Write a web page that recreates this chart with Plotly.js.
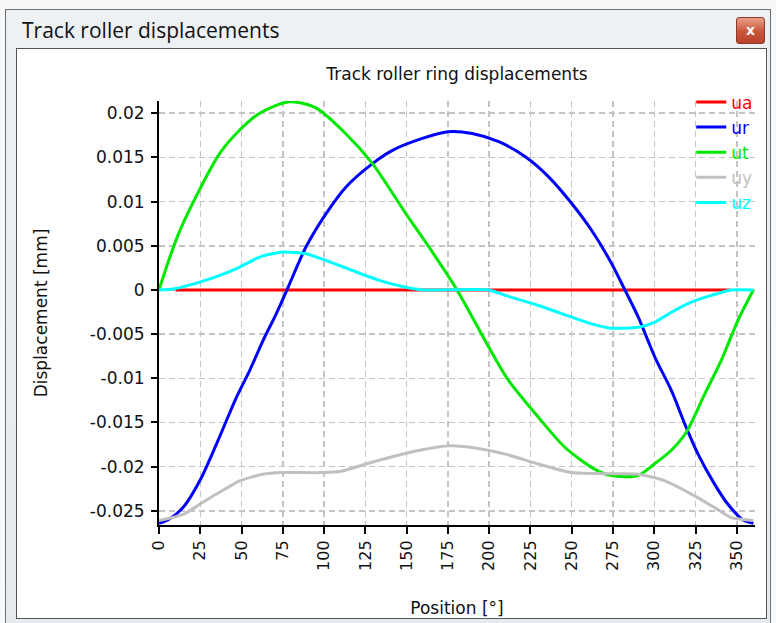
<!DOCTYPE html>
<html>
<head>
<meta charset="utf-8">
<script src="https://cdn.plot.ly/plotly-3.0.1.min.js"></script>
<style>
  html, body { margin:0; padding:0; width:776px; height:623px; overflow:hidden; background:#f7f8f9; }
  #win { position:absolute; left:5px; top:9px; width:766px; height:620px; box-sizing:border-box;
         border:1px solid #6e6e6e; background:linear-gradient(#eef1f4, #e6e9ed); }
  #wtitle { position:absolute; left:22px; top:16px; font-family:"Open Sans", sans-serif; font-size:21px; color:#111; }
  #close { position:absolute; left:736px; top:17px; width:29px; height:27px; box-sizing:border-box;
           border:1px solid #8a3a2a; border-radius:3px; background:linear-gradient(#e9a08a, #c9553b 55%, #b8432c);
           color:#fff; font-family:"DejaVu Sans", sans-serif; font-weight:bold; font-size:14px; text-align:center; line-height:24px; }
  #panel { position:absolute; left:16px; top:48px; width:751px; height:571px; box-sizing:border-box;
           border:1px solid #555; background:#fff; }
  #chart { position:absolute; left:17px; top:49px; width:749px; height:569px; }
</style>
</head>
<body>
<div id="win"></div>
<div id="wtitle">Track roller displacements</div>
<div id="close">x</div>
<div id="panel"></div>
<div id="chart"></div>
<script>
// ---- data ----
const uaX = [10, 346];
const uaY = [0, 0];

const urX = [0, 5.6, 14.7, 24.7, 34.8, 46.9, 54.9, 63, 71, 77.5, 89, 101.2, 113.3, 129.3, 141.4, 159.5, 175, 189.7, 205.8, 221.9, 236, 250, 262, 274.2, 282.2, 290.3, 300.4, 310.4, 318.5, 326.5, 336.6, 344.6, 353.6, 360];
const urY = [-0.0264, -0.0260, -0.0246, -0.0216, -0.01745, -0.01216, -0.00913, -0.00573, -0.0027, 0, 0.00486, 0.00864, 0.01166, 0.0143, 0.0158, 0.01715, 0.0179, 0.0177, 0.01677, 0.01507, 0.0128, 0.00978, 0.00675, 0.00297, 0, -0.00308, -0.00762, -0.0114, -0.01518, -0.01858, -0.0220, -0.02425, -0.0260, -0.0264];

const utX = [0, 12.7, 36.8, 48.9, 61, 79, 95, 113, 129.3, 149.5, 163.5, 180.5, 199.8, 211.8, 229.9, 246, 264, 274, 290, 300, 310, 319.4, 330.5, 340.5, 350.6, 360];
const utY = [0, 0.00675, 0.01545, 0.0181, 0.0200, 0.0213, 0.0206, 0.0177, 0.0143, 0.00864, 0.00486, 0, -0.00649, -0.01027, -0.01443, -0.01783, -0.0203, -0.0210, -0.0210, -0.0197, -0.0182, -0.0161, -0.0118, -0.0080, -0.00346, 0];

const uyX = [0, 14.7, 24.7, 34.8, 48.9, 63, 75, 99.2, 111.2, 125.3, 151.5, 175.6, 189.7, 209.8, 229.9, 250, 274.2, 290.3, 306.4, 322.5, 336.6, 346.6, 360];
const uyY = [-0.0261, -0.0254, -0.02425, -0.0231, -0.0216, -0.02085, -0.02067, -0.02067, -0.02048, -0.0197, -0.0184, -0.01764, -0.01783, -0.01858, -0.0197, -0.02067, -0.0208, -0.02085, -0.0216, -0.0231, -0.02464, -0.02577, -0.0261];

const uzX = [0, 8.6, 24.7, 36.8, 48.9, 61, 75, 89, 101, 117, 133.4, 149.5, 159.5, 200, 209.8, 229.9, 250, 262, 274.2, 290.3, 300.4, 310.4, 322.5, 334.5, 346.6, 360];
const uzY = [0, 0.0001, 0.00088, 0.00164, 0.00259, 0.00372, 0.00429, 0.0041, 0.00335, 0.00221, 0.00108, 0.0003, 0, 0, -0.00062, -0.00176, -0.00308, -0.00384, -0.00433, -0.00422, -0.00365, -0.00252, -0.00138, -0.00062, 0, 0];

const seriesNames = ["ua", "ur", "ut", "uy", "uz"];
const seriesColors = ["#ff0000", "#0000ff", "#00e800", "#c0c0c0", "#00ffff"];
const seriesSmoothing = [0, 0.8, 0.8, 0.6, 0.6];

const xTickVals = [0, 25, 50, 75, 100, 125, 150, 175, 200, 225, 250, 275, 300, 325, 350];
const xTickText = ["0", "25", "50", "75", "100", "125", "150", "175", "200", "225", "250", "275", "300", "325", "350"];
const yTickVals = [0.02, 0.015, 0.01, 0.005, 0, -0.005, -0.01, -0.015, -0.02, -0.025];
const yTickText = ["0.02", "0.015", "0.01", "0.005", "0", "-0.005", "-0.01", "-0.015", "-0.02", "-0.025"];

const xs = [uaX, urX, utX, uyX, uzX];
const ys = [uaY, urY, utY, uyY, uzY];

const FONT = "DejaVu Sans, Verdana, sans-serif";

const traces = seriesNames.map((n, i) => ({
  type: "scatter",
  mode: "lines",
  x: xs[i],
  y: ys[i],
  name: '<span style="color:' + seriesColors[i] + '">' + n + '</span>',
  line: seriesSmoothing[i] > 0
    ? { color: seriesColors[i], width: 3, shape: "spline", smoothing: seriesSmoothing[i] }
    : { color: seriesColors[i], width: 3 },
  hoverinfo: "skip"
}));

const layout = {
  width: 749,
  height: 569,
  margin: { l: 142, r: 8, t: 52, b: 93, pad: 0 },
  paper_bgcolor: "rgba(0,0,0,0)",
  plot_bgcolor: "rgba(0,0,0,0)",
  font: { family: FONT, size: 17, color: "#111" },
  title: { text: "Track roller ring displacements", x: 0.5, xref: "paper", xanchor: "center",
           y: 0.956, yref: "container", yanchor: "middle", font: { family: FONT, size: 17, color: "#111" } },
  showlegend: true,
  legend: { x: 0.893, xanchor: "left", y: 1.039, yanchor: "top", bgcolor: "rgba(0,0,0,0)",
            font: { family: FONT, size: 17 }, itemwidth: 30, borderwidth: 0 },
  xaxis: {
    range: [0, 361], tickmode: "array", tickvals: xTickVals, ticktext: xTickText, tickangle: -90,
    showline: true, linecolor: "#000", linewidth: 2, ticks: "outside", ticklen: 7, tickwidth: 2, tickcolor: "#000",
    showgrid: true, gridcolor: "#c4c4c4", gridwidth: 1.5, griddash: "6px,4px", zeroline: false,
    tickfont: { family: FONT, size: 16, color: "#111" },
    title: { text: "Position [°]", font: { family: FONT, size: 17, color: "#111" }, standoff: 32 },
    automargin: false
  },
  yaxis: {
    range: [-0.0266, 0.02138], tickmode: "array", tickvals: yTickVals, ticktext: yTickText,
    showline: true, linecolor: "#000", linewidth: 2, ticks: "outside", ticklen: 6, tickwidth: 2, tickcolor: "#000",
    showgrid: true, gridcolor: "#c4c4c4", gridwidth: 1.5, griddash: "6px,4px", zeroline: false,
    tickfont: { family: FONT, size: 17, color: "#111" }, ticklabelstandoff: 3,
    title: { text: "Displacement [mm]", font: { family: FONT, size: 17, color: "#111" }, standoff: 38 },
    automargin: false
  }
};

Plotly.newPlot("chart", traces, layout, { staticPlot: true, displayModeBar: false });
</script>
</body>
</html>
